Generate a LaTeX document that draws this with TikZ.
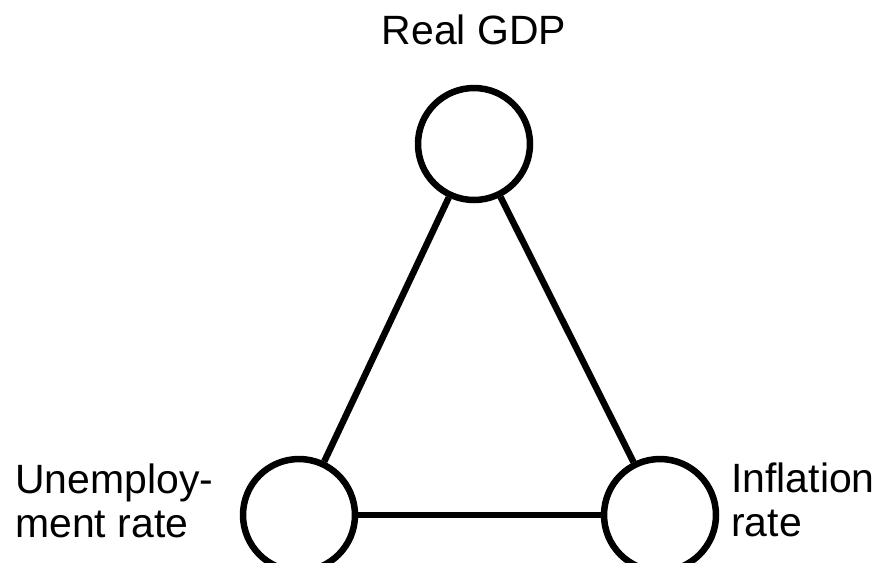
\documentclass[tikz,border=0pt]{standalone}
\usepackage{fontspec}
\setmainfont{Liberation Sans}
\begin{document}
\begin{tikzpicture}[x=0.02cm, y=-0.02cm,
    every node/.style={font=\fontsize{23.3pt}{25pt}\selectfont},
    var/.style={draw, circle, line width=3.7pt, minimum size=2.24cm, inner sep=0pt}]
              \useasboundingbox (0,0) rectangle (882,562);
              \node[var] (G) at (474,144) {};
              \node[var] (U) at (299,515) {};
              \node[var] (I) at (660,515) {};

              \draw[line width=3.7pt] (G) -- (U);
              \draw[line width=3.7pt] (G) -- (I);
              \draw[line width=3.7pt] (U) -- (I);

              \node[anchor=base, inner sep=0pt] (Gl) at (474,44) {Real GDP};
              \node[align=left, anchor=base west, inner sep=0pt] (Ul) at (15,537) {Unemploy-\\ment rate};
              \node[align=left, anchor=base west, inner sep=0pt] (Il) at (731,536) {Inflation\\rate};
            \end{tikzpicture}
\end{document}
